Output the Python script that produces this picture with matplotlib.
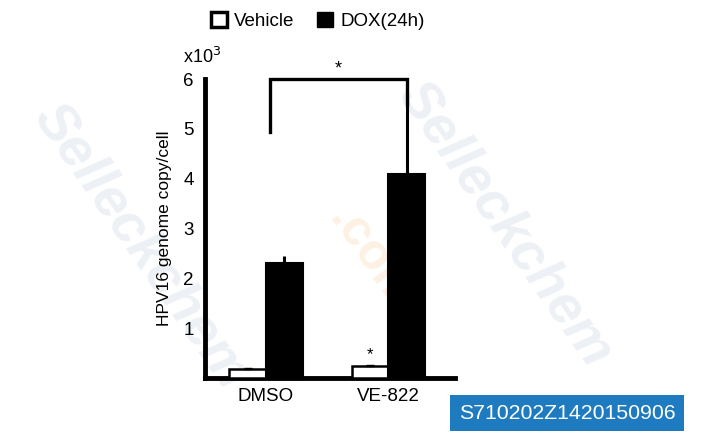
import matplotlib.pyplot as plt
from matplotlib.patches import Patch

plt.rcParams['font.family'] = ['Liberation Sans', 'DejaVu Sans']

# data (values in units of 10^3)
groups = ['DMSO', 'VE-822']
vehicle = [0.18, 0.24]
vehicle_err = [0.03, 0.02]
dox = [2.30, 4.10]
dox_err = [0.14, 1.40]
ytick_vals = [1, 2, 3, 4, 5, 6]

fig = plt.figure(figsize=(7.01, 4.48), dpi=100)

# faint watermarks
for (x, y) in [(0.2, 0.45), (0.72, 0.5)]:
    fig.text(x, y, 'Selleckchem', rotation=-55, fontsize=40, fontweight='bold',
             style='italic', color='#edf1f6', ha='center', va='center', zorder=0)
fig.text(0.53, 0.42, '.com', rotation=-55, fontsize=36, fontweight='bold',
         color='#fdf1e4', ha='center', va='center', zorder=0)

ax = fig.add_axes([205 / 701, 1 - 378 / 448, 250 / 701, (378 - 79) / 448])
ax.set_zorder(2)
ax.patch.set_alpha(0)

w = 0.30
xs = range(len(groups))
vx = [i - w / 2 for i in xs]
dx = [i + w / 2 for i in xs]

ax.bar(vx, vehicle, width=w, color='white', edgecolor='black', linewidth=1.8, zorder=3)
ax.bar(dx, dox, width=w, color='black', edgecolor='black', linewidth=1.5, zorder=3)
ax.errorbar(vx, vehicle, yerr=[[0, 0], vehicle_err], fmt='none', ecolor='black',
            elinewidth=1.5, capsize=3, zorder=4)
ax.errorbar(dx, dox, yerr=[[0, 0], dox_err], fmt='none', ecolor='black',
            elinewidth=2.2, capsize=0, zorder=4)

# significance bracket
bl = 0.03
br = dx[1]
ax.plot([bl, bl, br, br], [4.94, 6.0, 6.0, dox[1] + dox_err[1]], color='black',
        linewidth=2.4, solid_joinstyle='miter', clip_on=False, zorder=4)
ax.text((bl + br) / 2, 6.2, '*', ha='center', va='center', fontsize=13)
ax.text(vx[1], vehicle[1] + 0.22, '*', ha='center', va='center', fontsize=12)

ax.set_xlim(-0.498, 1.543)
ax.set_ylim(0, 6)
ax.set_yticks(ytick_vals)
ax.set_yticklabels([str(v) for v in ytick_vals], fontsize=13.5)
ax.set_xticks(list(xs))
ax.set_xticklabels(groups, fontsize=13.5)
ax.tick_params(axis='y', length=0, pad=8)
ax.tick_params(axis='x', length=0, pad=7)
for s in ['top', 'right']:
    ax.spines[s].set_visible(False)
ax.spines['left'].set_linewidth(3.5)
ax.spines['bottom'].set_linewidth(3.5)
ax.set_ylabel('HPV16 genome copy/cell', fontsize=12.5, labelpad=8)
ax.text(-0.012, 1.075, r'x10$^3$', transform=ax.transAxes, ha='center', va='center',
        fontsize=13)

handles = [Patch(facecolor='white', edgecolor='black', linewidth=2.5, label='Vehicle'),
           Patch(facecolor='black', edgecolor='black', label='DOX(24h)')]
leg = fig.legend(handles=handles, loc='center', bbox_to_anchor=(318 / 701, 1 - 21 / 448),
                 ncol=2, frameon=False, fontsize=13.5, handlelength=0.85,
                 handleheight=0.85, handletextpad=0.4, columnspacing=1.2)
leg.set_zorder(3)

stamp = fig.text(567 / 701, 1 - 413 / 448, 'S710202Z1420150906', ha='center',
                 va='center', fontsize=15.3, color='white',
                 bbox=dict(boxstyle='square,pad=0.4', facecolor='#1f7bc0', edgecolor='none'))
stamp.set_zorder(3)

fig.savefig('out.png', dpi=100)
